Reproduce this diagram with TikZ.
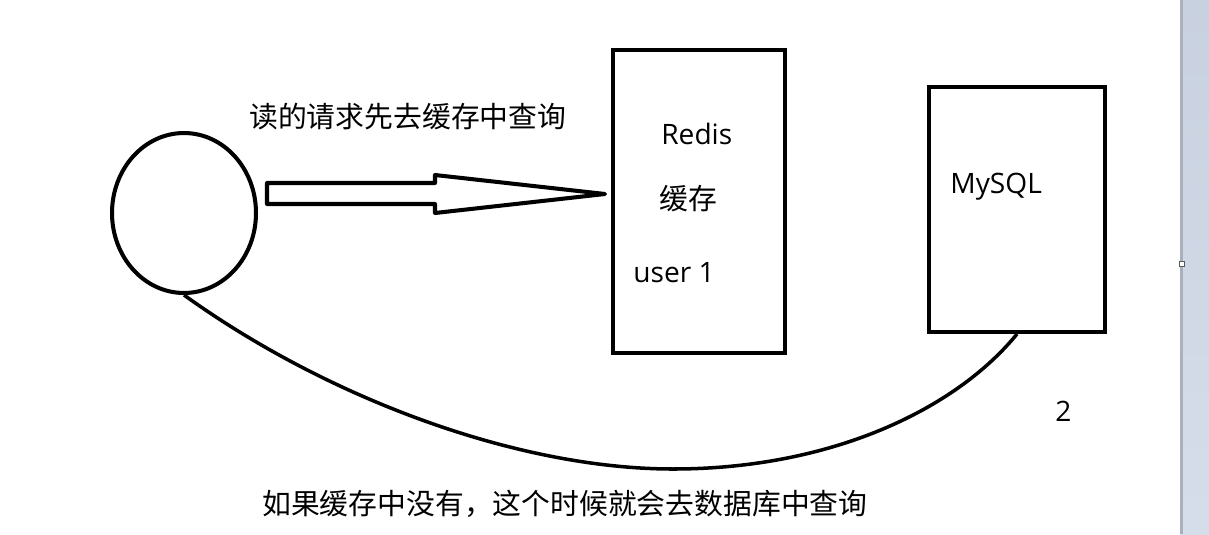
\documentclass[tikz,border=0pt]{standalone}
\usepackage{fontspec}
\setmainfont{Open Sans}
\newfontfamily\cjk{Noto Sans CJK SC}
\usetikzlibrary{positioning,shapes.geometric}

\definecolor{stripblue}{HTML}{CCD5E5}
\definecolor{stripedge}{HTML}{A9B1BF}

\begin{document}
\begin{tikzpicture}[
		x=0.02cm, y=-0.02cm,
		box/.style={
			draw,
			line width=2.3pt,
			inner sep=0pt
		},
		lbl/.style={
			inner sep=0pt,
			anchor=west,
			font=\fontsize{16}{19}\selectfont
		},
		zh/.style={
			inner sep=0pt,
			anchor=west,
			font=\cjk\fontsize{16.4}{20}\selectfont
		}
		]
		
		\useasboundingbox (0,0) rectangle (1209,534);
		\fill[white] (0,0) rectangle (1209,534);
		\shade[top color=stripblue!95!gray, bottom color=stripblue!80!white] (1180,0) rectangle (1209,534);
		\fill[stripedge] (1180,0) rectangle (1183,534);
		\draw[gray!70!black, line width=0.5pt, fill=white] (1179,261) rectangle (1184,266);
		
		\node (client) [box, ellipse, minimum width=2.88cm, minimum height=3.2cm] at (184,213) {};
		\node (redis) [box, minimum width=3.44cm, minimum height=6.06cm] at (699,201.5) {};
		\node (mysql) [box, minimum width=3.52cm, minimum height=4.9cm] at (1017,209.5) {};
		
		\node (ask) [zh] at (249,117) {读的请求先去缓存中查询};
		\node (rname) [lbl] at (661,134) {Redis};
		\node (cache) [zh] at (659,199) {缓存};
		\node (user) [lbl] at (633,273) {user 1};
		\node (mname) [lbl] at (950,187) {MySQL};
		\node (two) [lbl] at (1055,411) {2};
		\node (miss) [zh] at (262,504) {如果缓存中没有，这个时候就会去数据库中查询};
		
		% hollow arrow towards the cache
		\draw[line width=2.3pt, line join=round]
			(267,183) -- (435,183) -- (435,175) -- (605,194)
			-- (435,213) -- (435,204) -- (267,204) -- cycle;
		
		\draw[line width=2pt] (client.south) .. controls (330,400) and (520,469) .. (673,469)
			.. controls (830,469) and (955,410) .. (mysql.south);
		
	\end{tikzpicture}
\end{document}
